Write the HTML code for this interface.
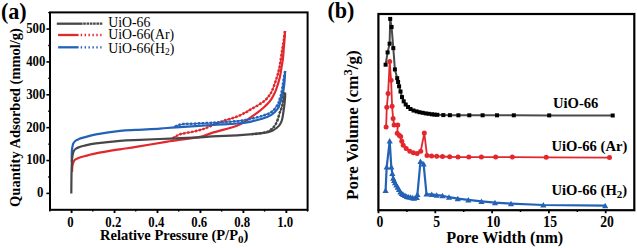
<!DOCTYPE html>
<html><head><meta charset="utf-8"><style>
html,body{margin:0;padding:0;background:#fff;width:637px;height:248px;overflow:hidden}
svg{display:block}
text{font-family:"Liberation Serif",serif;fill:#000}
.tk{font-size:12.8px;font-weight:bold}
.pl{font-size:22.1px;font-weight:bold}
.al{font-weight:bold}
.lg{font-size:13.8px}
.sl{font-size:14.6px;font-weight:bold}
</style></head><body>
<svg width="637" height="248" viewBox="0 0 637 248"><g><path d="M72.00,172.00 C72.07,171.00 72.15,167.67 72.40,166.00 C72.65,164.33 73.03,163.07 73.50,162.00 C73.97,160.93 74.03,160.38 75.20,159.60 C76.37,158.82 78.40,158.00 80.50,157.30 C82.60,156.60 85.22,156.07 87.80,155.40 C90.38,154.73 90.63,154.32 96.00,153.30 C101.37,152.28 113.33,150.37 120.00,149.30 C126.67,148.23 128.33,148.15 136.00,146.90 C143.67,145.65 159.33,142.90 166.00,141.80 C172.67,140.70 170.33,141.12 176.00,140.30 C181.67,139.48 194.00,138.13 200.00,136.90 C206.00,135.67 205.83,134.77 212.00,132.90 C218.17,131.03 231.50,127.60 237.00,125.70 C242.50,123.80 242.83,122.82 245.00,121.50 C247.17,120.18 248.33,119.00 250.00,117.80 C251.67,116.60 253.38,115.47 255.00,114.30 C256.62,113.13 258.20,111.98 259.70,110.80 C261.20,109.62 262.60,108.45 264.00,107.20 C265.40,105.95 266.93,104.57 268.10,103.30 C269.27,102.03 270.18,100.78 271.00,99.60 C271.82,98.42 272.17,97.80 273.00,96.20 C273.83,94.60 274.87,93.12 276.00,90.00 C277.13,86.88 278.90,81.17 279.80,77.50 C280.70,73.83 280.87,71.25 281.40,68.00 C281.93,64.75 282.60,61.33 283.00,58.00 C283.40,54.67 283.55,51.00 283.80,48.00 C284.05,45.00 284.30,42.83 284.50,40.00 C284.70,37.17 284.92,32.50 285.00,31.00" fill="none" stroke="#e2272d" stroke-width="2.2" stroke-linejoin="round"/><path d="M285.00,31.00 C284.80,32.50 284.22,37.17 283.80,40.00 C283.38,42.83 282.97,45.00 282.50,48.00 C282.03,51.00 281.53,54.67 281.00,58.00 C280.47,61.33 280.00,64.75 279.30,68.00 C278.60,71.25 277.95,73.83 276.80,77.50 C275.65,81.17 273.65,87.02 272.40,90.00 C271.15,92.98 270.62,93.58 269.30,95.40 C267.98,97.22 266.50,99.18 264.50,100.90 C262.50,102.62 259.72,104.22 257.30,105.70 C254.88,107.18 251.88,108.70 250.00,109.80 C248.12,110.90 248.33,111.10 246.00,112.30 C243.67,113.50 240.00,115.48 236.00,117.00 C232.00,118.52 227.00,119.57 222.00,121.40 C217.00,123.23 209.67,126.57 206.00,128.00 C202.33,129.43 202.00,129.42 200.00,130.00 C198.00,130.58 196.33,131.00 194.00,131.50 C191.67,132.00 188.33,132.55 186.00,133.00 C183.67,133.45 181.67,133.67 180.00,134.20 C178.33,134.73 177.33,135.40 176.00,136.20 C174.67,137.00 172.67,138.53 172.00,139.00" fill="none" stroke="#e2272d" stroke-width="1.2" stroke-linejoin="round"/><path d="M285.00,31.00 C284.80,32.50 284.22,37.17 283.80,40.00 C283.38,42.83 282.97,45.00 282.50,48.00 C282.03,51.00 281.53,54.67 281.00,58.00 C280.47,61.33 280.00,64.75 279.30,68.00 C278.60,71.25 277.95,73.83 276.80,77.50 C275.65,81.17 273.65,87.02 272.40,90.00 C271.15,92.98 270.62,93.58 269.30,95.40 C267.98,97.22 266.50,99.18 264.50,100.90 C262.50,102.62 259.72,104.22 257.30,105.70 C254.88,107.18 251.88,108.70 250.00,109.80 C248.12,110.90 248.33,111.10 246.00,112.30 C243.67,113.50 240.00,115.48 236.00,117.00 C232.00,118.52 227.00,119.57 222.00,121.40 C217.00,123.23 209.67,126.57 206.00,128.00 C202.33,129.43 202.00,129.42 200.00,130.00 C198.00,130.58 196.33,131.00 194.00,131.50 C191.67,132.00 188.33,132.55 186.00,133.00 C183.67,133.45 181.67,133.67 180.00,134.20 C178.33,134.73 177.33,135.40 176.00,136.20 C174.67,137.00 172.67,138.53 172.00,139.00" fill="none" stroke="#e2272d" stroke-width="2.5" stroke-linejoin="round" stroke-dasharray="2.3,1.6"/><path d="M71.70,162.00 C71.72,160.33 71.70,154.42 71.80,152.00 C71.90,149.58 72.05,148.92 72.30,147.50 C72.55,146.08 72.80,144.58 73.30,143.50 C73.80,142.42 74.52,141.67 75.30,141.00 C76.08,140.33 77.13,139.93 78.00,139.50 C78.87,139.07 78.87,138.92 80.50,138.40 C82.13,137.88 85.22,137.07 87.80,136.40 C90.38,135.73 90.63,135.32 96.00,134.40 C101.37,133.48 113.33,131.67 120.00,130.90 C126.67,130.13 129.33,130.18 136.00,129.80 C142.67,129.42 153.33,129.02 160.00,128.60 C166.67,128.18 167.33,127.90 176.00,127.30 C184.67,126.70 201.83,125.63 212.00,125.00 C222.17,124.37 230.67,124.03 237.00,123.50 C243.33,122.97 245.82,122.58 250.00,121.80 C254.18,121.02 258.47,120.00 262.10,118.80 C265.73,117.60 269.18,116.30 271.80,114.60 C274.42,112.90 276.52,110.25 277.80,108.60 C279.08,106.95 278.80,106.57 279.50,104.70 C280.20,102.83 281.33,99.85 282.00,97.40 C282.67,94.95 283.08,92.57 283.50,90.00 C283.92,87.43 284.23,85.17 284.50,82.00 C284.77,78.83 285.00,72.83 285.10,71.00" fill="none" stroke="#2462b6" stroke-width="2.2" stroke-linejoin="round"/><path d="M285.10,71.00 C284.85,72.50 284.08,77.00 283.60,80.00 C283.12,83.00 282.68,86.30 282.20,89.00 C281.72,91.70 281.20,94.28 280.70,96.20 C280.20,98.12 279.68,99.12 279.20,100.50 C278.72,101.88 279.03,102.62 277.80,104.50 C276.57,106.38 274.42,109.88 271.80,111.80 C269.18,113.72 265.73,114.80 262.10,116.00 C258.47,117.20 254.18,118.13 250.00,119.00 C245.82,119.87 243.33,120.57 237.00,121.20 C230.67,121.83 219.83,122.37 212.00,122.80 C204.17,123.23 194.83,123.58 190.00,123.80 C185.17,124.02 185.00,123.85 183.00,124.10 C181.00,124.35 179.50,124.77 178.00,125.30 C176.50,125.83 174.67,126.97 174.00,127.30" fill="none" stroke="#2462b6" stroke-width="1.2" stroke-linejoin="round"/><path d="M285.10,71.00 C284.85,72.50 284.08,77.00 283.60,80.00 C283.12,83.00 282.68,86.30 282.20,89.00 C281.72,91.70 281.20,94.28 280.70,96.20 C280.20,98.12 279.68,99.12 279.20,100.50 C278.72,101.88 279.03,102.62 277.80,104.50 C276.57,106.38 274.42,109.88 271.80,111.80 C269.18,113.72 265.73,114.80 262.10,116.00 C258.47,117.20 254.18,118.13 250.00,119.00 C245.82,119.87 243.33,120.57 237.00,121.20 C230.67,121.83 219.83,122.37 212.00,122.80 C204.17,123.23 194.83,123.58 190.00,123.80 C185.17,124.02 185.00,123.85 183.00,124.10 C181.00,124.35 179.50,124.77 178.00,125.30 C176.50,125.83 174.67,126.97 174.00,127.30" fill="none" stroke="#2462b6" stroke-width="2.5" stroke-linejoin="round" stroke-dasharray="2.3,1.6"/><path d="M71.30,193.50 C71.33,190.42 71.40,180.25 71.50,175.00 C71.60,169.75 71.72,165.33 71.90,162.00 C72.08,158.67 72.28,156.83 72.60,155.00 C72.92,153.17 73.32,152.00 73.80,151.00 C74.28,150.00 74.80,149.57 75.50,149.00 C76.20,148.43 76.58,148.13 78.00,147.60 C79.42,147.07 81.00,146.50 84.00,145.80 C87.00,145.10 90.00,144.23 96.00,143.40 C102.00,142.57 112.67,141.40 120.00,140.80 C127.33,140.20 131.67,140.17 140.00,139.80 C148.33,139.43 160.00,139.00 170.00,138.60 C180.00,138.20 193.00,137.77 200.00,137.40 C207.00,137.03 205.83,136.75 212.00,136.40 C218.17,136.05 230.67,135.63 237.00,135.30 C243.33,134.97 245.83,134.75 250.00,134.40 C254.17,134.05 259.00,133.57 262.00,133.20 C265.00,132.83 266.20,132.67 268.00,132.20 C269.80,131.73 271.37,131.10 272.80,130.40 C274.23,129.70 275.47,128.90 276.60,128.00 C277.73,127.10 278.70,126.33 279.60,125.00 C280.50,123.67 281.37,122.17 282.00,120.00 C282.63,117.83 282.98,114.67 283.40,112.00 C283.82,109.33 284.20,106.67 284.50,104.00 C284.80,101.33 285.12,97.90 285.20,96.00 C285.28,94.10 285.03,93.17 285.00,92.60" fill="none" stroke="#474747" stroke-width="2.2" stroke-linejoin="round"/><path d="M285.00,92.60 C284.90,92.77 284.60,92.87 284.40,93.60 C284.20,94.33 284.10,95.27 283.80,97.00 C283.50,98.73 283.03,102.00 282.60,104.00 C282.17,106.00 281.70,107.50 281.20,109.00 C280.70,110.50 280.20,111.17 279.60,113.00 C279.00,114.83 278.33,118.00 277.60,120.00 C276.87,122.00 276.00,123.67 275.20,125.00 C274.40,126.33 273.85,127.00 272.80,128.00 C271.75,129.00 270.37,130.23 268.90,131.00 C267.43,131.77 265.82,132.17 264.00,132.60 C262.18,133.03 260.00,133.33 258.00,133.60 C256.00,133.87 253.00,134.10 252.00,134.20" fill="none" stroke="#474747" stroke-width="1.2" stroke-linejoin="round"/><path d="M285.00,92.60 C284.90,92.77 284.60,92.87 284.40,93.60 C284.20,94.33 284.10,95.27 283.80,97.00 C283.50,98.73 283.03,102.00 282.60,104.00 C282.17,106.00 281.70,107.50 281.20,109.00 C280.70,110.50 280.20,111.17 279.60,113.00 C279.00,114.83 278.33,118.00 277.60,120.00 C276.87,122.00 276.00,123.67 275.20,125.00 C274.40,126.33 273.85,127.00 272.80,128.00 C271.75,129.00 270.37,130.23 268.90,131.00 C267.43,131.77 265.82,132.17 264.00,132.60 C262.18,133.03 260.00,133.33 258.00,133.60 C256.00,133.87 253.00,134.10 252.00,134.20" fill="none" stroke="#474747" stroke-width="2.5" stroke-linejoin="round" stroke-dasharray="2.3,1.6"/></g><rect x="50.0" y="12.4" width="257.6" height="197.4" fill="none" stroke="#000" stroke-width="2"/><line x1="46.4" y1="193.40" x2="50.0" y2="193.40" stroke="#000" stroke-width="1.6"/><text transform="translate(43.4,197.30) scale(1,1.12)" text-anchor="end" class="tk">0</text><line x1="46.4" y1="160.53" x2="50.0" y2="160.53" stroke="#000" stroke-width="1.6"/><text transform="translate(45.4,164.43) scale(1,1.12)" text-anchor="end" class="tk">100</text><line x1="46.4" y1="127.66" x2="50.0" y2="127.66" stroke="#000" stroke-width="1.6"/><text transform="translate(45.4,131.56) scale(1,1.12)" text-anchor="end" class="tk">200</text><line x1="46.4" y1="94.79" x2="50.0" y2="94.79" stroke="#000" stroke-width="1.6"/><text transform="translate(45.4,98.69) scale(1,1.12)" text-anchor="end" class="tk">300</text><line x1="46.4" y1="61.92" x2="50.0" y2="61.92" stroke="#000" stroke-width="1.6"/><text transform="translate(45.4,65.82) scale(1,1.12)" text-anchor="end" class="tk">400</text><line x1="46.4" y1="29.05" x2="50.0" y2="29.05" stroke="#000" stroke-width="1.6"/><text transform="translate(45.4,32.95) scale(1,1.12)" text-anchor="end" class="tk">500</text><line x1="48.2" y1="176.97" x2="50.0" y2="176.97" stroke="#000" stroke-width="1.4"/><line x1="48.2" y1="144.09" x2="50.0" y2="144.09" stroke="#000" stroke-width="1.4"/><line x1="48.2" y1="111.23" x2="50.0" y2="111.23" stroke="#000" stroke-width="1.4"/><line x1="48.2" y1="78.36" x2="50.0" y2="78.36" stroke="#000" stroke-width="1.4"/><line x1="48.2" y1="45.49" x2="50.0" y2="45.49" stroke="#000" stroke-width="1.4"/><line x1="48.2" y1="12.62" x2="50.0" y2="12.62" stroke="#000" stroke-width="1.4"/><line x1="71.60" y1="209.8" x2="71.60" y2="213.0" stroke="#000" stroke-width="1.9"/><text transform="translate(70.40,226.6) scale(1,1.14)" text-anchor="middle" class="tk">0</text><line x1="114.55" y1="209.8" x2="114.55" y2="213.0" stroke="#000" stroke-width="1.9"/><text transform="translate(113.35,226.6) scale(1,1.14)" text-anchor="middle" class="tk">0.2</text><line x1="157.50" y1="209.8" x2="157.50" y2="213.0" stroke="#000" stroke-width="1.9"/><text transform="translate(156.30,226.6) scale(1,1.14)" text-anchor="middle" class="tk">0.4</text><line x1="200.45" y1="209.8" x2="200.45" y2="213.0" stroke="#000" stroke-width="1.9"/><text transform="translate(199.25,226.6) scale(1,1.14)" text-anchor="middle" class="tk">0.6</text><line x1="243.40" y1="209.8" x2="243.40" y2="213.0" stroke="#000" stroke-width="1.9"/><text transform="translate(242.20,226.6) scale(1,1.14)" text-anchor="middle" class="tk">0.8</text><line x1="286.35" y1="209.8" x2="286.35" y2="213.0" stroke="#000" stroke-width="1.9"/><text transform="translate(285.15,226.6) scale(1,1.14)" text-anchor="middle" class="tk">1.0</text><line x1="49.82" y1="209.8" x2="49.82" y2="211.60000000000002" stroke="#000" stroke-width="1.4"/><line x1="92.78" y1="209.8" x2="92.78" y2="211.60000000000002" stroke="#000" stroke-width="1.4"/><line x1="135.72" y1="209.8" x2="135.72" y2="211.60000000000002" stroke="#000" stroke-width="1.4"/><line x1="178.68" y1="209.8" x2="178.68" y2="211.60000000000002" stroke="#000" stroke-width="1.4"/><line x1="221.62" y1="209.8" x2="221.62" y2="211.60000000000002" stroke="#000" stroke-width="1.4"/><line x1="264.57" y1="209.8" x2="264.57" y2="211.60000000000002" stroke="#000" stroke-width="1.4"/><line x1="307.53" y1="209.8" x2="307.53" y2="211.60000000000002" stroke="#000" stroke-width="1.4"/><text x="0.9" y="19.3" class="pl">(a)</text><text transform="translate(20.0,117.5) rotate(-90)" text-anchor="middle" class="al" style="font-size:14.5px">Quantity Adsorbed (mmol/g)</text><text x="174.2" y="240.2" text-anchor="middle" class="al" style="font-size:14.5px">Relative Pressure (P/P<tspan dy="3" style="font-size:11px">0</tspan><tspan dy="-3">)</tspan></text><line x1="56.8" y1="23.7" x2="82.6" y2="23.7" stroke="#474747" stroke-width="2.3"/><line x1="83.2" y1="23.7" x2="102.8" y2="23.7" stroke="#474747" stroke-width="2.3" stroke-dasharray="2.6,0.7"/><text x="108.2" y="26.7" class="lg">UiO-66</text><line x1="58.1" y1="35.0" x2="78.6" y2="35.0" stroke="#e2272d" stroke-width="2.3"/><line x1="80.7" y1="35.0" x2="101.5" y2="35.0" stroke="#e2272d" stroke-width="2.3" stroke-dasharray="1.4,2.5"/><text x="108.2" y="39.0" class="lg">UiO-66(Ar)</text><line x1="58.1" y1="47.3" x2="78.6" y2="47.3" stroke="#2462b6" stroke-width="2.3"/><line x1="80.7" y1="47.3" x2="101.5" y2="47.3" stroke="#2462b6" stroke-width="2.3" stroke-dasharray="1.4,2.5"/><text x="108.2" y="52.9" class="lg">UiO-66(H<tspan dy="2.5" style="font-size:9.5px">2</tspan><tspan dy="-2.5">)</tspan></text><polyline points="385.6,64.7 387.6,52.4 389.6,43.7 390.2,18.9 391.6,27.0 393.3,48.1 394.9,69.4 397.2,78.2 398.1,82.0 399.1,86.3 400.5,91.5 402.0,97.1 403.7,101.3 405.7,104.5 408.0,107.0 410.5,109.0 413.5,110.5 416.6,111.4 419.5,112.2 422.7,112.8 425.7,113.4 428.7,113.8 432.0,114.3 434.5,114.6 437.3,114.8 443.3,115.1 449.9,115.2 458.4,115.3 469.3,115.3 482.6,115.3 497.0,115.3 513.8,115.3 549.2,115.4 612.7,115.5" fill="none" stroke="#4a4a4a" stroke-width="2" stroke-linejoin="round"/><rect x="383.60" y="62.70" width="4" height="4" fill="#000"/><rect x="385.60" y="50.40" width="4" height="4" fill="#000"/><rect x="387.60" y="41.70" width="4" height="4" fill="#000"/><rect x="388.20" y="16.90" width="4" height="4" fill="#000"/><rect x="389.60" y="25.00" width="4" height="4" fill="#000"/><rect x="391.30" y="46.10" width="4" height="4" fill="#000"/><rect x="392.90" y="67.40" width="4" height="4" fill="#000"/><rect x="395.20" y="76.20" width="4" height="4" fill="#000"/><rect x="396.10" y="80.00" width="4" height="4" fill="#000"/><rect x="397.10" y="84.30" width="4" height="4" fill="#000"/><rect x="398.50" y="89.50" width="4" height="4" fill="#000"/><rect x="400.00" y="95.10" width="4" height="4" fill="#000"/><rect x="401.70" y="99.30" width="4" height="4" fill="#000"/><rect x="403.70" y="102.50" width="4" height="4" fill="#000"/><rect x="406.00" y="105.00" width="4" height="4" fill="#000"/><rect x="408.50" y="107.00" width="4" height="4" fill="#000"/><rect x="411.50" y="108.50" width="4" height="4" fill="#000"/><rect x="414.60" y="109.40" width="4" height="4" fill="#000"/><rect x="417.50" y="110.20" width="4" height="4" fill="#000"/><rect x="420.70" y="110.80" width="4" height="4" fill="#000"/><rect x="423.70" y="111.40" width="4" height="4" fill="#000"/><rect x="426.70" y="111.80" width="4" height="4" fill="#000"/><rect x="430.00" y="112.30" width="4" height="4" fill="#000"/><rect x="432.50" y="112.60" width="4" height="4" fill="#000"/><rect x="435.30" y="112.80" width="4" height="4" fill="#000"/><rect x="441.30" y="113.10" width="4" height="4" fill="#000"/><rect x="447.90" y="113.20" width="4" height="4" fill="#000"/><rect x="456.40" y="113.30" width="4" height="4" fill="#000"/><rect x="467.30" y="113.30" width="4" height="4" fill="#000"/><rect x="480.60" y="113.30" width="4" height="4" fill="#000"/><rect x="495.00" y="113.30" width="4" height="4" fill="#000"/><rect x="511.80" y="113.30" width="4" height="4" fill="#000"/><rect x="547.20" y="113.40" width="4" height="4" fill="#000"/><rect x="610.70" y="113.50" width="4" height="4" fill="#000"/><polyline points="386.1,127.1 386.8,107.3 388.1,93.4 389.7,61.5 391.1,80.3 392.1,106.3 393.1,118.5 394.1,125.1 397.8,125.1 397.2,133.2 399.2,135.2 400.7,136.6 401.8,141.3 403.2,145.3 406.2,148.6 409.8,151.2 413.4,152.7 417.1,153.6 420.7,151.2 424.3,133.1 427.0,155.4 431.6,155.9 436.7,156.3 442.5,156.5 449.7,156.8 458.0,157.1 468.8,157.1 481.4,157.1 495.7,157.1 512.3,157.1 546.2,157.3 609.5,157.6" fill="none" stroke="#e2272d" stroke-width="1.8" stroke-linejoin="round"/><circle cx="386.10" cy="127.10" r="2.5" fill="#e2272d"/><circle cx="386.80" cy="107.30" r="2.5" fill="#e2272d"/><circle cx="388.10" cy="93.40" r="2.5" fill="#e2272d"/><circle cx="389.70" cy="61.50" r="2.5" fill="#e2272d"/><circle cx="391.10" cy="80.30" r="2.5" fill="#e2272d"/><circle cx="392.10" cy="106.30" r="2.5" fill="#e2272d"/><circle cx="393.10" cy="118.50" r="2.5" fill="#e2272d"/><circle cx="394.10" cy="125.10" r="2.5" fill="#e2272d"/><circle cx="397.80" cy="125.10" r="2.5" fill="#e2272d"/><circle cx="397.20" cy="133.20" r="2.5" fill="#e2272d"/><circle cx="399.20" cy="135.20" r="2.5" fill="#e2272d"/><circle cx="400.70" cy="136.60" r="2.5" fill="#e2272d"/><circle cx="401.80" cy="141.30" r="2.5" fill="#e2272d"/><circle cx="403.20" cy="145.30" r="2.5" fill="#e2272d"/><circle cx="406.20" cy="148.60" r="2.5" fill="#e2272d"/><circle cx="409.80" cy="151.20" r="2.5" fill="#e2272d"/><circle cx="413.40" cy="152.70" r="2.5" fill="#e2272d"/><circle cx="417.10" cy="153.60" r="2.5" fill="#e2272d"/><circle cx="420.70" cy="151.20" r="2.5" fill="#e2272d"/><circle cx="424.30" cy="133.10" r="2.5" fill="#e2272d"/><circle cx="427.00" cy="155.40" r="2.5" fill="#e2272d"/><circle cx="431.60" cy="155.90" r="2.5" fill="#e2272d"/><circle cx="436.70" cy="156.30" r="2.5" fill="#e2272d"/><circle cx="442.50" cy="156.50" r="2.5" fill="#e2272d"/><circle cx="449.70" cy="156.80" r="2.5" fill="#e2272d"/><circle cx="458.00" cy="157.10" r="2.5" fill="#e2272d"/><circle cx="468.80" cy="157.10" r="2.5" fill="#e2272d"/><circle cx="481.40" cy="157.10" r="2.5" fill="#e2272d"/><circle cx="495.70" cy="157.10" r="2.5" fill="#e2272d"/><circle cx="512.30" cy="157.10" r="2.5" fill="#e2272d"/><circle cx="546.20" cy="157.30" r="2.5" fill="#e2272d"/><circle cx="609.50" cy="157.60" r="2.5" fill="#e2272d"/><polyline points="385.6,190.5 386.7,166.8 389.7,140.8 391.3,167.0 392.3,173.5 393.2,178.1 394.1,180.5 395.0,182.7 396.3,185.0 397.7,187.2 399.0,189.5 400.4,191.8 401.8,193.3 403.1,194.5 405.0,195.5 406.8,196.3 408.6,196.8 410.4,197.2 412.2,197.7 414.0,198.1 416.8,197.4 417.4,194.5 420.5,161.4 423.6,163.9 426.5,194.0 431.7,194.4 436.7,195.2 442.5,195.7 449.0,197.2 457.8,198.6 468.3,199.8 481.5,201.3 495.0,202.6 511.0,203.6 543.3,205.0 605.2,205.6" fill="none" stroke="#2462b6" stroke-width="2.2" stroke-linejoin="round"/><path d="M385.60,187.60 L388.70,193.10 L382.50,193.10Z" fill="#2462b6"/><path d="M386.70,163.90 L389.80,169.40 L383.60,169.40Z" fill="#2462b6"/><path d="M389.70,137.90 L392.80,143.40 L386.60,143.40Z" fill="#2462b6"/><path d="M391.30,164.10 L394.40,169.60 L388.20,169.60Z" fill="#2462b6"/><path d="M392.30,170.60 L395.40,176.10 L389.20,176.10Z" fill="#2462b6"/><path d="M393.20,175.20 L396.30,180.70 L390.10,180.70Z" fill="#2462b6"/><path d="M394.10,177.60 L397.20,183.10 L391.00,183.10Z" fill="#2462b6"/><path d="M395.00,179.80 L398.10,185.30 L391.90,185.30Z" fill="#2462b6"/><path d="M396.30,182.10 L399.40,187.60 L393.20,187.60Z" fill="#2462b6"/><path d="M397.70,184.30 L400.80,189.80 L394.60,189.80Z" fill="#2462b6"/><path d="M399.00,186.60 L402.10,192.10 L395.90,192.10Z" fill="#2462b6"/><path d="M400.40,188.90 L403.50,194.40 L397.30,194.40Z" fill="#2462b6"/><path d="M401.80,190.40 L404.90,195.90 L398.70,195.90Z" fill="#2462b6"/><path d="M403.10,191.60 L406.20,197.10 L400.00,197.10Z" fill="#2462b6"/><path d="M405.00,192.60 L408.10,198.10 L401.90,198.10Z" fill="#2462b6"/><path d="M406.80,193.40 L409.90,198.90 L403.70,198.90Z" fill="#2462b6"/><path d="M408.60,193.90 L411.70,199.40 L405.50,199.40Z" fill="#2462b6"/><path d="M410.40,194.30 L413.50,199.80 L407.30,199.80Z" fill="#2462b6"/><path d="M412.20,194.80 L415.30,200.30 L409.10,200.30Z" fill="#2462b6"/><path d="M414.00,195.20 L417.10,200.70 L410.90,200.70Z" fill="#2462b6"/><path d="M416.80,194.50 L419.90,200.00 L413.70,200.00Z" fill="#2462b6"/><path d="M417.40,191.60 L420.50,197.10 L414.30,197.10Z" fill="#2462b6"/><path d="M420.50,158.50 L423.60,164.00 L417.40,164.00Z" fill="#2462b6"/><path d="M423.60,161.00 L426.70,166.50 L420.50,166.50Z" fill="#2462b6"/><path d="M426.50,191.10 L429.60,196.60 L423.40,196.60Z" fill="#2462b6"/><path d="M431.70,191.50 L434.80,197.00 L428.60,197.00Z" fill="#2462b6"/><path d="M436.70,192.30 L439.80,197.80 L433.60,197.80Z" fill="#2462b6"/><path d="M442.50,192.80 L445.60,198.30 L439.40,198.30Z" fill="#2462b6"/><path d="M449.00,194.30 L452.10,199.80 L445.90,199.80Z" fill="#2462b6"/><path d="M457.80,195.70 L460.90,201.20 L454.70,201.20Z" fill="#2462b6"/><path d="M468.30,196.90 L471.40,202.40 L465.20,202.40Z" fill="#2462b6"/><path d="M481.50,198.40 L484.60,203.90 L478.40,203.90Z" fill="#2462b6"/><path d="M495.00,199.70 L498.10,205.20 L491.90,205.20Z" fill="#2462b6"/><path d="M511.00,200.70 L514.10,206.20 L507.90,206.20Z" fill="#2462b6"/><path d="M543.30,202.10 L546.40,207.60 L540.20,207.60Z" fill="#2462b6"/><path d="M605.20,202.70 L608.30,208.20 L602.10,208.20Z" fill="#2462b6"/><rect x="378.4" y="14.0" width="255.89999999999998" height="196.2" fill="none" stroke="#000" stroke-width="2.2"/><line x1="378.50" y1="210.2" x2="378.50" y2="213.2" stroke="#000" stroke-width="1.8"/><text transform="translate(379.80,226.6) scale(1,1.2)" text-anchor="middle" class="tk" style="font-size:13.7px">0</text><line x1="435.30" y1="210.2" x2="435.30" y2="213.2" stroke="#000" stroke-width="1.8"/><text transform="translate(436.60,226.6) scale(1,1.2)" text-anchor="middle" class="tk" style="font-size:13.7px">5</text><line x1="492.10" y1="210.2" x2="492.10" y2="213.2" stroke="#000" stroke-width="1.8"/><text transform="translate(493.40,226.6) scale(1,1.2)" text-anchor="middle" class="tk" style="font-size:13.7px">10</text><line x1="548.90" y1="210.2" x2="548.90" y2="213.2" stroke="#000" stroke-width="1.8"/><text transform="translate(550.20,226.6) scale(1,1.2)" text-anchor="middle" class="tk" style="font-size:13.7px">15</text><line x1="605.70" y1="210.2" x2="605.70" y2="213.2" stroke="#000" stroke-width="1.8"/><text transform="translate(607.00,226.6) scale(1,1.2)" text-anchor="middle" class="tk" style="font-size:13.7px">20</text><line x1="406.90" y1="210.2" x2="406.90" y2="212.0" stroke="#000" stroke-width="1.5"/><line x1="463.70" y1="210.2" x2="463.70" y2="212.0" stroke="#000" stroke-width="1.5"/><line x1="520.50" y1="210.2" x2="520.50" y2="212.0" stroke="#000" stroke-width="1.5"/><line x1="577.30" y1="210.2" x2="577.30" y2="212.0" stroke="#000" stroke-width="1.5"/><text x="327.4" y="17.8" class="pl">(b)</text><text transform="translate(358.4,125.2) rotate(-90)" text-anchor="middle" class="al" style="font-size:17px">Pore Volume (cm<tspan dy="-6.5" style="font-size:12.6px">3</tspan><tspan dy="6.5">/g)</tspan></text><text transform="translate(504.8,243.2) scale(1,1.07)" text-anchor="middle" class="al" style="font-size:16.2px">Pore Width (nm)</text><text x="553" y="108.4" class="sl">UiO-66</text><text x="551.5" y="151" class="sl">UiO-66 (Ar)</text><text x="551.5" y="195" class="sl">UiO-66 (H<tspan dy="2.8" style="font-size:11px">2</tspan><tspan dy="-2.8">)</tspan></text></svg>
</body></html>
